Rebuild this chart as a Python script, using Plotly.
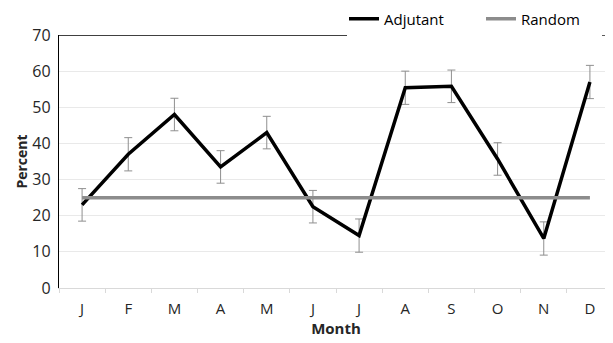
import plotly.graph_objects as go

months = ["J", "F", "M", "A", "M", "J", "J", "A", "S", "O", "N", "D"]
adjutant = [23.0, 37.0, 48.0, 33.5, 43.0, 22.5, 14.5, 55.4, 55.8, 35.7, 13.7, 57.0]
adjutant_err = [4.5, 4.6, 4.5, 4.5, 4.5, 4.5, 4.6, 4.6, 4.5, 4.5, 4.6, 4.6]
random_pct = [25] * 12
y_ticks = [0, 10, 20, 30, 40, 50, 60, 70]

x = list(range(len(months)))
font = "Open Sans"
# the page body has an 8px margin; size the figure to fill the rest of the window
OFF = 8
W, H = 613 - OFF, 343 - OFF
L, R, T, B = 59 - OFF, 0, 35 - OFF, 54.5
pw = W - L - R
ph = H - T - B

fig = go.Figure()
fig.add_trace(go.Scatter(
    x=x, y=adjutant, mode="lines", name="Adjutant",
    line=dict(color="black", width=3.5),
    error_y=dict(type="data", array=adjutant_err, visible=True,
                 color="#8f8f8f", thickness=1, width=4),
))
fig.add_trace(go.Scatter(
    x=x, y=random_pct, mode="lines", name="Random",
    line=dict(color="#8c8c8c", width=3.5),
))

# black top border, interrupted where the legend sits
for a, b in [(L, 347 - OFF), (602 - OFF, W)]:
    fig.add_shape(type="line", xref="paper", yref="y",
                  x0=(a - L) / pw, x1=(b - L) / pw, y0=70, y1=70,
                  line=dict(color="black", width=1.3), layer="above")

fig.update_layout(
    width=W, height=H,
    margin=dict(l=L, r=R, t=T, b=B, autoexpand=False),
    paper_bgcolor="white", plot_bgcolor="white",
    font=dict(family=font, size=15, color="#262626"),
    showlegend=True,
    legend=dict(orientation="h", xref="paper", yref="paper",
                x=(336 - L) / pw, xanchor="left", y=1 + (T + 5.5) / ph, yanchor="top",
                bgcolor="rgba(0,0,0,0)", font=dict(family=font, size=15, color="black"),
                entrywidth=92, entrywidthmode="pixels", tracegroupgap=0),
    xaxis=dict(
        range=[-0.5, 11.5], tickvals=x, ticktext=months, ticks="", showgrid=False,
        showline=True, linecolor="#d9d9d9", linewidth=1, zeroline=False,
        tickfont=dict(size=15, color="#262626"), ticklabelstandoff=7,
        minor=dict(tick0=-0.5, dtick=1, ticks="outside", ticklen=4, tickcolor="#d9d9d9",
                   showgrid=False),
        title=dict(text="<b>Month</b>", font=dict(size=15, color="#262626"), standoff=4),
        automargin=False, fixedrange=True,
    ),
    yaxis=dict(
        range=[0, 70], tickvals=y_ticks, showgrid=True, gridcolor="#e9e9e9", gridwidth=1,
        showline=True, linecolor="black", linewidth=1.3, zeroline=False, ticks="",
        tickfont=dict(size=16, color="#262626"), ticklabelstandoff=4,
        title=dict(text="<b>Percent</b>", font=dict(size=14, color="#262626"), standoff=1),
        automargin=False, fixedrange=True,
    ),
)

fig.write_html("out.html")
